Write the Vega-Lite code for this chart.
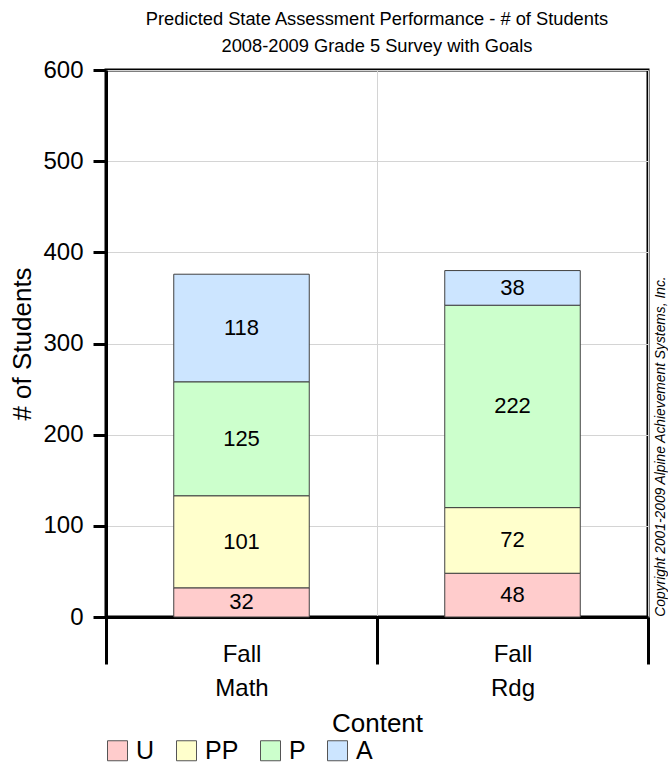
{
  "$schema": "https://vega.github.io/schema/vega-lite/v6.json",
  "autosize": "none",
  "padding": {"left": 106, "top": 70, "right": 20, "bottom": 146},
  "width": 542,
  "height": 547,
  "title": {
    "text": ["Predicted State Assessment Performance - # of Students", "2008-2009 Grade 5 Survey with Goals"],
    "fontSize": 18.3,
    "fontWeight": "normal",
    "lineHeight": 27,
    "frame": "group",
    "anchor": "middle",
    "baseline": "alphabetic",
    "offset": 18,
    "dy": 30,
    "color": "black"
  },
  "config": {
    "font": "Liberation Sans",
    "view": {"stroke": "black", "strokeWidth": 3},
    "axis": {"labelColor": "black", "titleColor": "black", "titleFontWeight": "normal"},
    "legend": {"labelColor": "black"}
  },
  "data": {
    "values": [
      {"Content": "Math", "Period": "Fall", "Level": "U", "value": 32},
      {"Content": "Math", "Period": "Fall", "Level": "PP", "value": 101},
      {"Content": "Math", "Period": "Fall", "Level": "P", "value": 125},
      {"Content": "Math", "Period": "Fall", "Level": "A", "value": 118},
      {"Content": "Rdg", "Period": "Fall", "Level": "U", "value": 48},
      {"Content": "Rdg", "Period": "Fall", "Level": "PP", "value": 72},
      {"Content": "Rdg", "Period": "Fall", "Level": "P", "value": 222},
      {"Content": "Rdg", "Period": "Fall", "Level": "A", "value": 38}
    ]
  },
  "resolve": {"axis": {"y": "independent"}},
  "layer": [
    {
      "mark": {"type": "bar", "width": {"band": 0.5}, "stroke": "#404040", "strokeWidth": 1, "opacity": 1},
      "encoding": {
        "x": {
          "field": "Content",
          "type": "nominal",
          "scale": {"type": "band", "paddingInner": 0, "paddingOuter": 0},
          "axis": {
            "title": "Content",
            "titleFontSize": 26,
            "titleY": 114,
            "titleBaseline": "alphabetic",
            "labelExpr": "datum.label ? ['Fall', datum.label] : ''",
            "labelFontSize": 24,
            "labelLineHeight": 34,
            "labelPadding": -22,
            "labelAngle": 0,
            "labelBaseline": "top",
            "tickBand": "extent",
            "tickSize": 47,
            "tickWidth": 3,
            "tickColor": "black",
            "domainWidth": 3,
            "domainColor": "black",
            "grid": true,
            "gridColor": "#d4d4d4",
            "gridWidth": 1
          }
        },
        "y": {
          "field": "value",
          "type": "quantitative",
          "aggregate": "sum",
          "stack": "zero",
          "scale": {"domain": [0, 600], "nice": false},
          "axis": {
            "title": "# of Students",
            "titleFontSize": 26,
            "titleX": -76,
            "titleBaseline": "alphabetic",
            "values": [0, 100, 200, 300, 400, 500, 600],
            "labelFontSize": 24,
            "labelPadding": 10,
            "tickSize": 13,
            "tickWidth": 3,
            "tickColor": "black",
            "domainWidth": 3,
            "domainColor": "black",
            "grid": true,
            "gridColor": "#d4d4d4",
            "gridWidth": 1
          }
        },
        "color": {
          "field": "Level",
          "type": "nominal",
          "scale": {"domain": ["U", "PP", "P", "A"], "range": ["#FFCCCC", "#FFFFCC", "#CCFFCC", "#CCE5FF"]},
          "legend": {
            "orient": "none",
            "legendX": -1,
            "legendY": 668,
            "direction": "horizontal",
            "title": null,
            "symbolType": "square",
            "symbolSize": 400,
            "symbolStrokeColor": "#555555",
            "symbolStrokeWidth": 1,
            "symbolOpacity": 1,
            "labelFontSize": 25,
            "labelOffset": 6,
            "columnPadding": 19,
            "padding": 0
          }
        },
        "order": {"field": "Level", "sort": "descending"}
      }
    },
    {
      "transform": [
        {"stack": "value", "groupby": ["Content"], "sort": [{"field": "Level", "order": "descending"}], "as": ["v0", "v1"]},
        {"fold": ["v0", "v1"], "as": ["edge", "bound"]}
      ],
      "mark": {"type": "text", "fontSize": 22, "color": "black", "baseline": "middle", "align": "center"},
      "encoding": {
        "x": {"field": "Content", "type": "nominal"},
        "y": {
          "field": "bound",
          "type": "quantitative",
          "aggregate": "mean",
          "stack": null,
          "axis": {
            "orient": "right",
            "title": "Copyright 2001-2009 Alpine Achievement Systems, Inc.",
            "titleFontSize": 13.8,
            "titleFontStyle": "italic",
            "titleAngle": -90,
            "titleX": 16,
            "titleY": 376,
            "titleAlign": "center",
            "titleBaseline": "alphabetic",
            "labels": false,
            "ticks": false,
            "domain": false,
            "grid": false
          }
        },
        "detail": {"field": "Level"},
        "text": {"field": "value", "aggregate": "max", "type": "quantitative"}
      }
    }
  ]
}
